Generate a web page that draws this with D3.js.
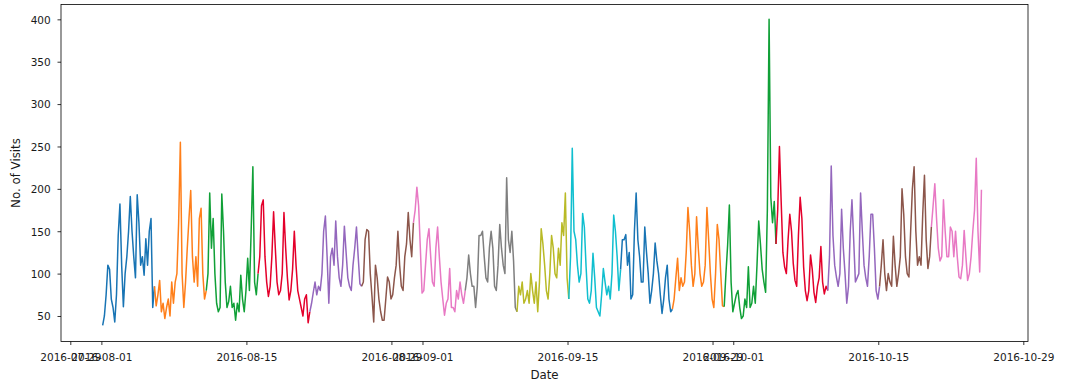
<!DOCTYPE html>
<html>
<head>
<meta charset="utf-8">
<script src="https://cdn.jsdelivr.net/npm/d3@7"></script>
<style>
  html, body { margin: 0; padding: 0; background: #fff; }
  svg { display: block; }
  text { font-family: "DejaVu Sans", sans-serif; fill: #1a1a1a; }
</style>
</head>
<body>
<svg id="chart" width="1065" height="386"></svg>
<script>
// ---- data (visits, 4-hour samples, 5-day segments, each drawn in its own colour) ----
const seriesStart = Date.UTC(2016, 7, 1, 3, 0);   // 2016-08-01 03:00
const stepHours = 4;
const segmentDays = 5;

const seg01 = [39,50,75,110,105,70,60,43,75,145,182,110,61,100,120,150,191,150,120,95,193,160,110,120,98,141,110,150,165,60];
const seg02 = [85,62,75,92,55,65,47,60,70,50,90,65,90,100,160,255,100,60,90,130,165,198,120,90,120,85,165,177,100,70];
const seg03 = [80,100,195,130,165,100,65,55,60,194,150,90,60,67,85,60,65,45,65,55,98,70,55,80,118,80,150,226,90,75];
const seg04 = [100,120,180,187,120,90,73,85,120,173,130,90,75,80,100,172,130,95,69,80,105,150,110,80,70,60,50,70,75,42];
const seg05 = [55,65,78,90,75,85,80,100,150,168,120,65,120,130,110,162,120,95,85,110,156,125,95,85,80,110,130,155,120,88];
const seg06 = [85,90,140,152,150,100,73,43,110,95,70,55,45,45,70,96,90,70,75,95,110,150,110,85,80,120,135,172,140,120];
const seg07 = [160,175,202,180,130,77,80,110,140,153,120,90,85,130,155,120,90,70,51,65,70,106,60,60,55,80,70,90,75,65];
const seg08 = [80,95,122,100,85,85,60,85,145,145,150,120,95,90,130,150,130,85,80,110,158,130,110,100,213,140,125,150,115,60];
const seg09 = [55,85,75,90,65,70,80,65,100,80,65,90,55,90,153,135,110,80,70,100,145,130,100,95,130,110,160,145,195,95];
const seg10 = [70,120,248,150,140,110,90,100,171,155,108,70,65,80,124,95,60,55,50,75,106,90,75,85,70,100,169,150,120,80];
const seg11 = [105,140,140,146,110,125,70,75,150,195,140,120,90,90,155,125,100,65,80,100,136,115,100,75,53,70,95,110,70,55];
const seg12 = [58,70,95,118,80,95,85,90,125,178,150,110,85,100,167,130,100,85,90,110,178,140,100,70,60,100,158,140,100,62];
const seg13 = [61,100,134,181,90,55,65,75,80,60,47,50,70,60,108,60,65,85,65,110,162,135,105,90,78,175,400,190,160,185];
const seg14 = [135,175,250,185,125,108,100,140,170,150,112,92,85,145,190,165,108,80,68,80,122,105,78,66,85,95,132,90,76,85];
const seg15 = [80,120,227,145,110,96,85,100,176,130,100,65,85,150,187,140,90,95,100,195,150,110,95,85,120,170,170,130,80,70];
const seg16 = [85,110,140,100,80,100,90,85,144,110,85,100,120,200,170,120,100,96,150,200,226,150,110,120,110,170,216,140,106,120];
const seg17 = [155,180,206,165,130,115,120,187,150,120,120,155,150,120,150,120,96,94,110,151,120,92,100,120,150,175,236,150,102,199];

const segments = [seg01, seg02, seg03, seg04, seg05, seg06, seg07, seg08, seg09, seg10, seg11, seg12, seg13, seg14, seg15, seg16, seg17];

const palette = ["#1874b4", "#ff7f1a", "#10a037", "#e4002b", "#9467bd", "#8c564b", "#e879c4", "#7f7f7f", "#b9ba26", "#10bfcf"];

const xTickDates = ["2016-07-29", "2016-08-01", "2016-08-15", "2016-08-29", "2016-09-01", "2016-09-15", "2016-09-29", "2016-10-01", "2016-10-15", "2016-10-29"];
const yTicks = [50, 100, 150, 200, 250, 300, 350, 400];
const xLabel = "Date";
const yLabel = "No. of Visits";

// ---- layout ----
const plot = { left: 61, right: 1028, top: 4.5, bottom: 341.5 };
const svg = d3.select("#chart");
svg.append("rect").attr("width", 1065).attr("height", 386).attr("fill", "#fff");

const parseDay = d3.utcParse("%Y-%m-%d");
const x = d3.scaleUtc()
  .domain([new Date(Date.UTC(2016, 6, 28, 2, 27)), new Date(Date.UTC(2016, 9, 29, 10, 53))])
  .range([plot.left, plot.right]);
const y = d3.scaleLinear().domain([19.9, 417.5]).range([plot.bottom, plot.top]);

// ---- lines ----
const hourMs = 3600 * 1000;
const line = d3.line()
  .x(d => x(new Date(d.t)))
  .y(d => y(d.v))
  .curve(d3.curveLinear);

const segPoints = segments.map((vals, k) => {
  const t0 = seriesStart + k * segmentDays * 24 * hourMs;
  return vals.map((v, i) => ({ t: t0 + i * stepHours * hourMs, v }));
});

const g = svg.append("g");
segPoints.forEach((pts, k) => {
  // continue each coloured piece up to the first sample of the next piece, so the series reads as one trace
  const drawn = k < segPoints.length - 1 ? pts.concat([segPoints[k + 1][0]]) : pts;
  g.append("path")
    .attr("d", line(drawn))
    .attr("fill", "none")
    .attr("stroke", palette[k % palette.length])
    .attr("stroke-width", 1.5)
    .attr("stroke-linejoin", "round")
    .attr("stroke-linecap", "butt");
});

// ---- axes ----
const xAxis = d3.axisBottom(x)
  .tickValues(xTickDates.map(parseDay))
  .tickFormat(d3.utcFormat("%Y-%m-%d"))
  .tickSize(3.5).tickSizeOuter(0).tickPadding(3.5);
const gx = svg.append("g").attr("transform", `translate(0,${plot.bottom})`).call(xAxis);
gx.select(".domain").remove();
gx.selectAll(".tick line").attr("stroke", "#000").attr("stroke-width", 0.8);
gx.selectAll(".tick text")
  .attr("y", 19).attr("dy", 0)
  .style("font-size", "10.5px").attr("fill", "#1a1a1a");

const yAxis = d3.axisLeft(y).tickValues(yTicks).tickSize(3.5).tickSizeOuter(0).tickPadding(3.5);
const gy = svg.append("g").attr("transform", `translate(${plot.left},0)`).call(yAxis);
gy.select(".domain").remove();
gy.selectAll(".tick line").attr("stroke", "#000").attr("stroke-width", 0.8);
gy.selectAll(".tick text")
  .attr("x", -10.3).attr("dy", "0.36em")
  .style("font-size", "10.5px").attr("fill", "#1a1a1a");

// frame
svg.append("rect")
  .attr("x", plot.left).attr("y", plot.top)
  .attr("width", plot.right - plot.left).attr("height", plot.bottom - plot.top)
  .attr("fill", "none").attr("stroke", "#000").attr("stroke-width", 0.8);

// axis labels
svg.append("text")
  .attr("x", (plot.left + plot.right) / 2).attr("y", 378.5)
  .attr("text-anchor", "middle").style("font-size", "11.8px")
  .text(xLabel);
svg.append("text")
  .attr("transform", `translate(19.5,${(plot.top + plot.bottom) / 2}) rotate(-90)`)
  .attr("text-anchor", "middle").style("font-size", "11.8px")
  .text(yLabel);
</script>
</body>
</html>
